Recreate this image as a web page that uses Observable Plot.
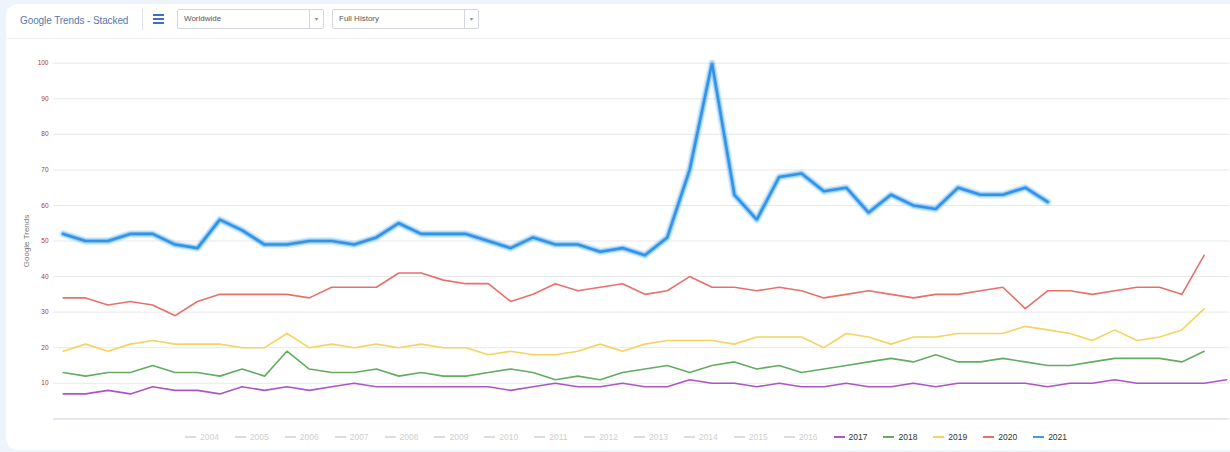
<!DOCTYPE html>
<html>
<head>
<meta charset="utf-8">
<script src="https://cdn.jsdelivr.net/npm/d3@7"></script>
<script src="https://cdn.jsdelivr.net/npm/@observablehq/plot@0.6"></script>
<style>
  html, body { margin: 0; padding: 0; }
  body { width: 1230px; height: 452px; background: #edf4fc; font-family: "Liberation Sans", Arial, sans-serif; position: relative; overflow: hidden; }
  #card { position: absolute; left: 6px; top: 4px; width: 1240px; height: 446px; background: #fff; border-radius: 12px; }
  #title { position: absolute; left: 20px; top: 15px; font-size: 10px; color: #5577aa; letter-spacing: -0.1px; }
  #sep { position: absolute; left: 142px; top: 9px; width: 1px; height: 21px; background: #dde3ea; }
  #ham { position: absolute; left: 153px; top: 14px; width: 11px; }
  #ham div { height: 2px; background: #3f6fc0; margin-bottom: 2px; }
  .sel { position: absolute; top: 9px; height: 18px; border: 1px solid #d4d8dd; border-radius: 2px; font-size: 8px; color: #555; background: #fff; }
  .sel span.t { position: absolute; left: 6px; top: 4px; }
  .sel span.c { position: absolute; right: 0; top: 0; width: 13px; height: 18px; border-left: 1px solid #d4d8dd; font-size: 6px; color: #888; text-align: center; line-height: 18px; }
  #hline { position: absolute; left: 6px; top: 38px; width: 1224px; height: 1px; background: #f0f2f5; }
  #chart { position: absolute; left: 0; top: 44px; }
  #legend { position: absolute; left: 185px; top: 430px; height: 14px; display: flex; }
  .li { width: 49.9px; display: flex; align-items: center; font-size: 8.5px; }
  .li .sw { width: 11px; height: 2px; margin-right: 4px; }
</style>
</head>
<body>
<div id="card"></div>
<div id="title">Google Trends - Stacked</div>
<div id="sep"></div>
<div id="ham"><div></div><div></div><div></div></div>
<div class="sel" style="left:177px;width:145px"><span class="t">Worldwide</span><span class="c">▾</span></div>
<div class="sel" style="left:332px;width:145px"><span class="t">Full History</span><span class="c">▾</span></div>
<div id="hline"></div>
<div id="chart"></div>
<div id="legend"></div>
<script>
// ---- data ----
const inactiveYears = ["2004","2005","2006","2007","2008","2009","2010","2011","2012","2013","2014","2015","2016"];
const activeYears = ["2017","2018","2019","2020","2021"];
const yearColors = ["#ac55c6", "#62ad62", "#f6d35e", "#e8706a", "#3b9be8"];
const yTicks = [10, 20, 30, 40, 50, 60, 70, 80, 90, 100];

const s2017 = [7,7,8,7,9,8,8,7,9,8,9,8,9,10,9,9,9,9,9,9,8,9,10,9,9,10,9,9,11,10,10,9,10,9,9,10,9,9,10,9,10,10,10,10,9,10,10,11,10,10,10,10,11];
const s2018 = [13,12,13,13,15,13,13,12,14,12,19,14,13,13,14,12,13,12,12,13,14,13,11,12,11,13,14,15,13,15,16,14,15,13,14,15,16,17,16,18,16,16,17,16,15,15,16,17,17,17,16,19];
const s2019 = [19,21,19,21,22,21,21,21,20,20,24,20,21,20,21,20,21,20,20,18,19,18,18,19,21,19,21,22,22,22,21,23,23,23,20,24,23,21,23,23,24,24,24,26,25,24,22,25,22,23,25,31];
const s2020 = [34,34,32,33,32,29,33,35,35,35,35,34,37,37,37,41,41,39,38,38,33,35,38,36,37,38,35,36,40,37,37,36,37,36,34,35,36,35,34,35,35,36,37,31,36,36,35,36,37,37,35,46];
const s2021 = [52,50,50,52,52,49,48,56,53,49,49,50,50,49,51,55,52,52,52,50,48,51,49,49,47,48,46,51,70,100,63,56,68,69,64,65,58,63,60,59,65,63,63,65,61];

const seriesList = [s2017, s2018, s2019, s2020, s2021];
const rows = [];
seriesList.forEach((s, k) => s.forEach((v, i) => rows.push({year: activeYears[k], week: i + 1, value: v})));
const blue = rows.filter(d => d.year === "2021");
const others = rows.filter(d => d.year !== "2021");

const chart = Plot.plot({
  width: 1230,
  height: 382,
  marginLeft: 53,
  marginRight: 1,
  marginTop: 18.7,
  marginBottom: 7.7,
  style: {background: "transparent", fontFamily: "Liberation Sans, Arial, sans-serif", overflow: "visible"},
  x: {domain: [0.566, 53.13], axis: null},
  y: {domain: [0, 100]},
  color: {domain: activeYears, range: yearColors},
  marks: [
    Plot.gridY(yTicks, {stroke: "#e6e8eb", strokeOpacity: 1, strokeWidth: 1}),
    Plot.ruleY([0], {stroke: "#d3dae6", strokeWidth: 1.2}),
    Plot.axisY(yTicks, {tickSize: 0, tickPadding: 5, fontSize: 6.5, fill: "#b2362b",
      label: "Google Trends", labelAnchor: "center", labelOffset: 30, labelArrow: "none"}),
    Plot.line(others, {x: "week", y: "value", z: "year", stroke: "year", strokeWidth: 1.6, curve: "linear"}),
    Plot.line(blue, {x: "week", y: "value", stroke: "#9fd0f7", strokeWidth: 8, strokeOpacity: 0.35, strokeLinejoin: "round"}),
    Plot.line(blue, {x: "week", y: "value", stroke: "#6ab8f2", strokeWidth: 5, strokeOpacity: 0.6, strokeLinejoin: "round"}),
    Plot.line(blue, {x: "week", y: "value", stroke: "#3393e6", strokeWidth: 2.6, strokeLinejoin: "miter"})
  ]
});
// axis label colour
chart.querySelectorAll('g[aria-label="y-axis label"] text').forEach(t => { t.setAttribute("fill", "#777"); t.style.fontSize = "8px"; });
document.getElementById("chart").appendChild(chart);

// legend
const legend = document.getElementById("legend");
inactiveYears.forEach(y => {
  const d = document.createElement("div"); d.className = "li";
  d.innerHTML = `<span class="sw" style="background:#dcdcdc"></span><span style="color:#cfcfcf">${y}</span>`;
  legend.appendChild(d);
});
activeYears.forEach((y, i) => {
  const d = document.createElement("div"); d.className = "li";
  d.innerHTML = `<span class="sw" style="background:${yearColors[i]}"></span><span style="color:#333">${y}</span>`;
  legend.appendChild(d);
});
</script>
</body>
</html>
